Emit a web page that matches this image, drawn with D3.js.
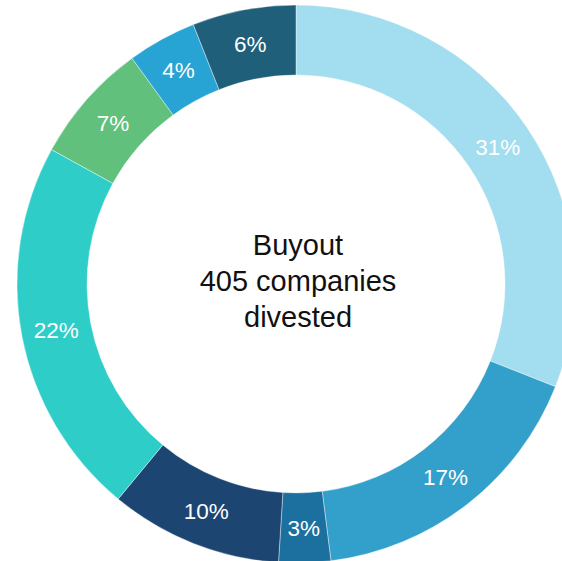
<!DOCTYPE html>
<html>
<head>
<meta charset="utf-8">
<script src="https://cdn.jsdelivr.net/npm/d3@7"></script>
<style>
  html, body { margin: 0; padding: 0; background: #fff; }
  svg { display: block; }
</style>
</head>
<body>
<svg id="chart" width="562" height="561"></svg>
<script>
// Share of divested buyout companies by segment (percent), clockwise from 12 o'clock
const segments = ["A", "B", "C", "D", "E", "F", "G", "H"];
const shares   = [31, 17, 3, 10, 22, 7, 4, 6];
const colors   = ["#a3ddf0", "#33a0cb", "#1b709f", "#1c4572", "#2ecdc8", "#61c07c", "#27a4d3", "#1f5f7a"];
const centerLines = ["Buyout", "405 companies", "divested"];

const svg = d3.select("#chart");
const cx = 296, cy = 284;
const outerR = 279, innerR = 209;

const g = svg.append("g").attr("transform", `translate(${cx},${cy})`);

const pie = d3.pie().value(d => d.value).sort(null);
const arc = d3.arc().innerRadius(innerR).outerRadius(outerR);

const data = segments.map((s, i) => ({ key: s, value: shares[i], color: colors[i] }));
const arcs = pie(data);

g.selectAll("path.slice")
  .data(arcs)
  .join("path")
  .attr("class", "slice")
  .attr("d", arc)
  .attr("fill", d => d.data.color)
  .attr("stroke", "#ffffff")
  .attr("stroke-width", 0.4);

g.selectAll("text.pct")
  .data(arcs)
  .join("text")
  .attr("class", "pct")
  .attr("transform", d => `translate(${arc.centroid(d)})`)
  .attr("text-anchor", "middle")
  .attr("dy", "0.36em")
  .attr("fill", "#ffffff")
  .style("font-family", "'Liberation Sans', Arial, sans-serif")
  .style("font-size", "22.5px")
  .text(d => d.data.value + "%");

// Center caption
const caption = g.append("text")
  .attr("text-anchor", "middle")
  .attr("fill", "#111111")
  .style("font-family", "'Liberation Sans', Arial, sans-serif")
  .style("font-size", "29px");

caption.selectAll("tspan")
  .data(centerLines)
  .join("tspan")
  .attr("x", 2)
  .attr("y", (d, i) => -29 + i * 36)
  .text(d => d);
</script>
</body>
</html>
